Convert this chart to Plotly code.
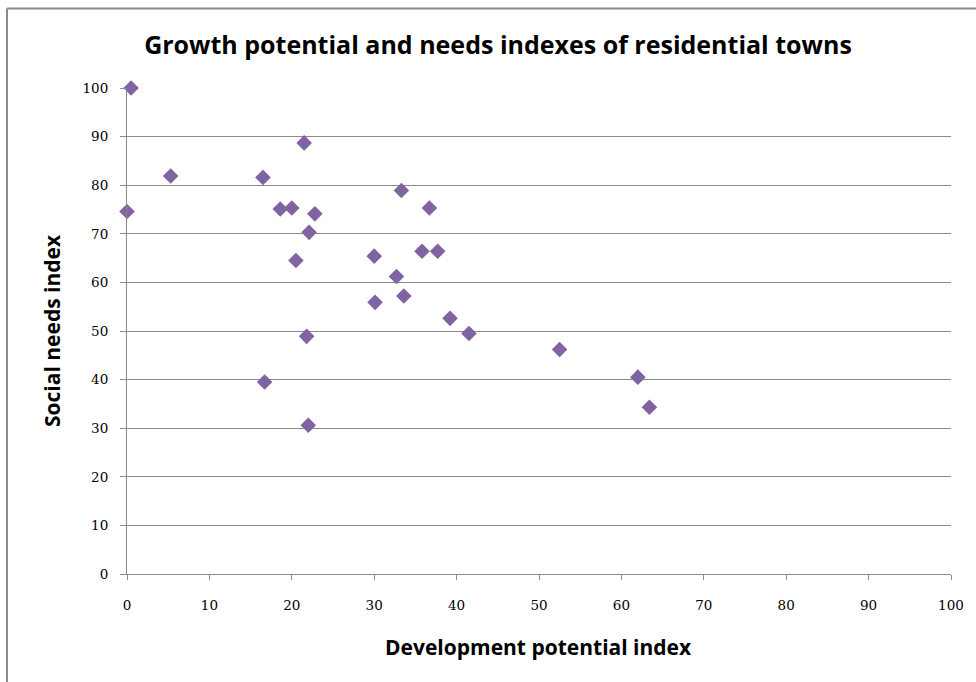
import plotly.graph_objects as go

# Development potential index (x) and social needs index (y) for each town
development_index = [0.5, 0.0, 5.3, 16.5, 21.5, 18.6, 20.0, 22.8, 22.1, 20.5,
                     33.3, 36.7, 30.0, 35.8, 37.7, 32.7, 33.6, 30.1, 39.2, 41.5,
                     21.8, 16.7, 22.0, 52.5, 62.0, 63.4]
social_needs_index = [100.0, 74.6, 81.9, 81.6, 88.7, 75.1, 75.3, 74.1, 70.3, 64.5,
                      78.9, 75.3, 65.4, 66.4, 66.4, 61.2, 57.2, 55.9, 52.6, 49.5,
                      48.9, 39.5, 30.6, 46.2, 40.5, 34.3]

x_ticks = [0, 10, 20, 30, 40, 50, 60, 70, 80, 90, 100]
y_ticks = [0, 10, 20, 30, 40, 50, 60, 70, 80, 90, 100]

W, H = 976, 682
L, R, T, B = 127, 25, 88, 108
plot_w = W - L - R
plot_h = H - T - B


def px_x(p):
    return (p - L) / plot_w


def px_y(p):
    return (H - B - p) / plot_h


GRID = "#8a8a8a"
TICK_FONT = dict(family="DejaVu Serif", size=13.5, color="#000000")
LABEL_FONT = dict(family="Open Sans", size=21, color="#000000")

fig = go.Figure(
    go.Scatter(
        x=development_index,
        y=social_needs_index,
        mode="markers",
        marker=dict(symbol="diamond", size=12, color="#8064A2",
                    line=dict(width=0)),
        cliponaxis=False,
        hoverinfo="x+y",
    )
)

fig.update_layout(
    width=W,
    height=H,
    margin=dict(l=L, r=R, t=T, b=B),
    paper_bgcolor="white",
    plot_bgcolor="white",
    showlegend=False,
    title=dict(
        text="<b>Growth potential and needs indexes of residential towns</b>",
        font=dict(family="Open Sans", size=25, color="#000000"),
        x=px_x(498), xref="paper", xanchor="center",
        y=1 - 45 / H, yref="container", yanchor="middle",
    ),
    xaxis=dict(
        range=[0, 100], tickvals=x_ticks, ticktext=[str(v) for v in x_ticks],
        showgrid=False, zeroline=False,
        showline=True, linecolor=GRID, linewidth=1,
        ticks="outside", ticklen=5, tickcolor=GRID,
        tickfont=TICK_FONT, ticklabelstandoff=14, automargin=False,
    ),
    yaxis=dict(
        range=[0, 100], tickvals=y_ticks, ticktext=[str(v) for v in y_ticks],
        showgrid=True, gridcolor=GRID, gridwidth=1, zeroline=False,
        showline=True, linecolor=GRID, linewidth=1,
        ticks="outside", ticklen=6, tickcolor=GRID,
        tickfont=TICK_FONT, ticklabelstandoff=9, automargin=False,
    ),
    annotations=[
        dict(text="<b>Development potential index</b>", font=LABEL_FONT,
             x=px_x(538), y=px_y(647), xref="paper", yref="paper",
             xanchor="center", yanchor="middle", showarrow=False),
        dict(text="<b>Social needs index</b>", font=LABEL_FONT, textangle=-90,
             x=px_x(52), y=px_y(331), xref="paper", yref="paper",
             xanchor="center", yanchor="middle", showarrow=False),
    ],
    shapes=[
        # chart frame: top and left edges
        dict(type="line", xref="paper", yref="paper",
             x0=px_x(7), x1=px_x(W + 5), y0=px_y(8.5), y1=px_y(8.5),
             line=dict(color="#8c8c8c", width=2)),
        dict(type="line", xref="paper", yref="paper",
             x0=px_x(7), x1=px_x(7), y0=px_y(8.5), y1=px_y(H + 5),
             line=dict(color="#8c8c8c", width=2)),
    ],
)

fig.write_html("out.html")
